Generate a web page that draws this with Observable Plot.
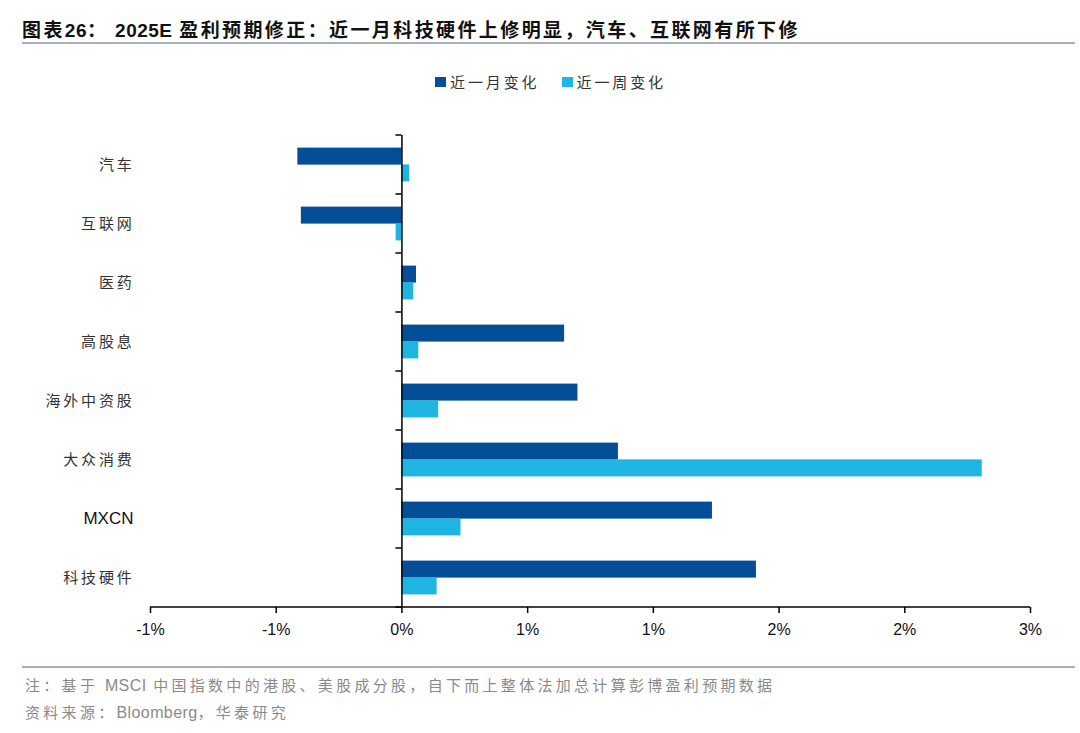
<!DOCTYPE html>
<html><head><meta charset="utf-8">
<script src="https://cdn.jsdelivr.net/npm/d3@7"></script>
<script src="https://cdn.jsdelivr.net/npm/@observablehq/plot@0.6"></script>
<style>
body{margin:0;background:#fff;width:1080px;height:733px;position:relative;overflow:hidden;font-family:"Noto Sans CJK SC",sans-serif}
#title{position:absolute;left:22px;top:17px;font-size:19px;line-height:24px;font-weight:bold;letter-spacing:2.4px;color:#111;white-space:nowrap}
#title .lat{font-family:"Liberation Sans",Arial,sans-serif;letter-spacing:0.5px}
.hline{position:absolute;left:22px;width:1053px;height:2px;background:#a8b1bf}
#legend{position:absolute;top:71px;left:435px;font-size:15px;line-height:22px;letter-spacing:2.9px;color:#333;white-space:nowrap;display:flex;align-items:center}
#legend .sw{display:inline-block;width:11px;height:10px;margin-right:4px}
#legend .item{display:flex;align-items:center;margin-right:22px}
#chart{position:absolute;left:0;top:110px}
#chart g[aria-label="y-axis tick label"][font-family*="Noto"] text{letter-spacing:2.8px}
.note{position:absolute;left:25px;font-size:15px;line-height:20px;letter-spacing:3.3px;color:#8a8a8a;white-space:nowrap}
.note .lat{font-family:"Liberation Sans",Arial,sans-serif;font-size:16px;letter-spacing:0.4px}
</style></head>
<body>
<div id="title">图表<span class="lat">26</span>： <span class="lat">2025E</span> 盈利预期修正：近一月科技硬件上修明显，汽车、互联网有所下修</div>
<div class="hline" style="top:42px"></div>
<div id="legend"></div>
<div id="chart"></div>
<div class="hline" style="top:666px"></div>
<div class="note" style="top:675px">注：基于 <span class="lat">MSCI</span> 中国指数中的港股、美股成分股，自下而上整体法加总计算彭博盈利预期数据</div>
<div class="note" style="top:702px">资料来源：<span class="lat">Bloomberg</span>，华泰研究</div>
<script>
const categories = ["汽车","互联网","医药","高股息","海外中资股","大众消费","MXCN","科技硬件"];
const monthChange = [-0.414,-0.400,0.058,0.647,0.700,0.861,1.235,1.410];
const weekChange  = [0.031,-0.023,0.047,0.067,0.146,2.308,0.235,0.140];
const seriesNames = ["近一月变化","近一周变化"];
const seriesColors = ["#034e97","#1fb5e2"];
const xTicks = [-1,-0.5,0,0.5,1,1.5,2,2.5];
const xTickLabels = ["-1%","-1%","0%","1%","1%","2%","2%","3%"];

const monthRows = categories.map((c,i)=>({cat:c, series:seriesNames[0], value:monthChange[i]}));
const weekRows  = categories.map((c,i)=>({cat:c, series:seriesNames[1], value:weekChange[i]}));

// legend
const lg = document.getElementById("legend");
seriesNames.forEach((n,i)=>{
  const it = document.createElement("span"); it.className="item";
  it.innerHTML = `<span class="sw" style="background:${seriesColors[i]}"></span><span>${n}</span>`;
  lg.appendChild(it);
});

const latin = '"Liberation Sans", Arial, sans-serif';
const cjk = '"Noto Sans CJK SC", sans-serif';

const boundaryTicks = (index, scales, values, dimensions) => {
  const g = d3.create("svg:g").attr("stroke","#000").attr("stroke-width",1.5);
  const y = scales.y, x = scales.x;
  const bw = y.bandwidth ? y.bandwidth() : 0;
  const ys = categories.map(c => y(c)).concat([y(categories[categories.length-1]) + bw]);
  const x0 = x(0);
  ys.forEach(v => g.append("line").attr("x1", x0-6).attr("x2", x0).attr("y1", v).attr("y2", v));
  // x axis baseline
  const yb = dimensions.height - dimensions.marginBottom;
  g.append("line").attr("x1", x(xTicks[0])).attr("x2", x(xTicks[xTicks.length-1])).attr("y1", yb).attr("y2", yb);
  return g.node();
};

const chart = Plot.plot({
  width: 1080,
  height: 550,
  marginLeft: 150,
  marginRight: 50,
  marginTop: 25,
  marginBottom: 53,
  style: {background: "#fff", overflow: "visible"},
  x: {domain: [-1, 2.5]},
  y: {type: "band", domain: categories, padding: 0},
  marks: [
    Plot.barX(monthRows, {x: "value", y: "cat", fill: seriesColors[0], insetTop: 12.6, insetBottom: 29.4}),
    Plot.barX(weekRows,  {x: "value", y: "cat", fill: seriesColors[1], insetTop: 29.4, insetBottom: 12.6}),
    Plot.ruleX([0], {stroke: "#000", strokeWidth: 1.5}),
    boundaryTicks,
    Plot.axisY({ticks: categories.filter(c => c !== "MXCN"), tickSize: 0, tickPadding: 16, fontSize: 15, fontFamily: cjk, fill: "#333", label: null}),
    Plot.axisY({ticks: ["MXCN"], tickSize: 0, tickPadding: 17, fontSize: 17, fontFamily: latin, fill: "#111", label: null}),
    Plot.axisX({ticks: xTicks, tickFormat: d => xTickLabels[xTicks.indexOf(d)], tickSize: 6, tickPadding: 10, fontSize: 16, fontFamily: latin, fill: "#111", stroke: "#000", strokeWidth: 1.5, label: null})
  ]
});
document.getElementById("chart").appendChild(chart);
</script>
</body></html>
